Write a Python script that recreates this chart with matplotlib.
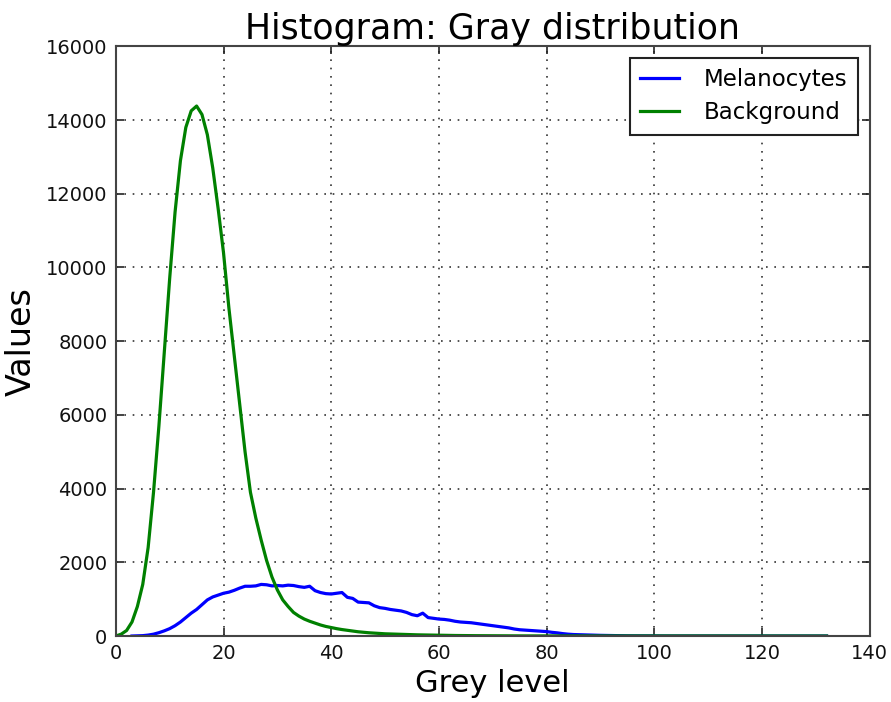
import matplotlib
matplotlib.use("Agg")
import matplotlib.pyplot as plt

background_levels = list(range(0, 133))
background = [
    0, 50, 150, 380, 800, 1400, 2400, 3900, 5700, 7700,
    9700, 11500, 12900, 13800, 14250, 14380, 14150, 13600, 12700, 11600,
    10400, 8900, 7600, 6300, 5000, 3900, 3200, 2600, 2050, 1600,
    1250, 980, 800, 640, 540, 460, 400, 350, 300, 260,
    230, 200, 175, 155, 135, 115, 100, 88, 78, 68,
    60, 55, 50, 45, 40, 36, 32, 29, 26, 23,
    20, 18, 16, 14, 12, 11, 10, 9, 8, 7,
    6, 5, 5, 4, 4, 3, 3, 3, 2, 2,
    2, 2, 1, 1, 1, 1, 1, 1, 1, 1,
    1, 0, 0, 0, 0, 0, 0, 0, 0, 0,
    0, 0, 0, 0, 0, 0, 0, 0, 0, 0,
    0, 0, 0, 0, 0, 0, 0, 0, 0, 0,
    0, 0, 0, 0, 0, 0, 0, 0, 0, 0,
    0, 0, 0,
]

melanocyte_levels = list(range(3, 133))
melanocytes = [
    0, 5, 10, 25, 50, 90, 140,
    200, 280, 380, 500, 620, 720, 850, 980, 1060, 1110,
    1160, 1190, 1240, 1300, 1350, 1350, 1360, 1400, 1390, 1360,
    1370, 1360, 1380, 1370, 1340, 1320, 1350, 1230, 1180, 1150,
    1140, 1160, 1180, 1050, 1020, 920, 910, 900, 820, 770,
    750, 720, 700, 680, 640, 580, 550, 620, 500, 480,
    460, 450, 430, 400, 380, 370, 360, 340, 320, 300,
    280, 260, 240, 220, 190, 170, 160, 150, 140, 130,
    120, 100, 85, 65, 50, 40, 35, 30, 25, 20,
    18, 15, 12, 10, 8, 6, 5, 4, 3, 2,
    2, 1, 1, 1, 1, 0, 0, 0, 0, 0,
    0, 0, 0, 0, 0, 0, 0, 0, 0, 0,
    0, 0, 0, 0, 0, 0, 0, 0, 0, 0,
    0, 0, 0,
]

x_ticks = [0, 20, 40, 60, 80, 100, 120, 140]
y_ticks = [0, 2000, 4000, 6000, 8000, 10000, 12000, 14000, 16000]

fig = plt.figure(figsize=(8.91, 7.02), dpi=100)
ax = fig.add_axes([0.130, 0.094, 0.846, 0.840])

ax.plot(melanocyte_levels, melanocytes, color="#0000ff", lw=2.3, label="Melanocytes")
ax.plot(background_levels, background, color="#008000", lw=2.3, label="Background")

ax.set_xlim(0, 140)
ax.set_ylim(0, 16000)
ax.set_xticks(x_ticks)
ax.set_yticks(y_ticks)
ax.tick_params(direction="in", top=True, right=True, length=6, width=1.2,
               labelsize=14, pad=6, colors="#222222", labelcolor="#111111")
ax.grid(True, linestyle=(0, (1, 4)), color="#333333", linewidth=1.2)
for s in ax.spines.values():
    s.set_linewidth(1.5)
    s.set_color("#444444")

ax.set_title("Histogram: Gray distribution", fontsize=25, pad=5)
ax.set_xlabel("Grey level", fontsize=22, labelpad=4)
ax.set_ylabel("Values", fontsize=24, labelpad=6)

leg = ax.legend(loc="upper right", fontsize=16.5, fancybox=False, framealpha=1,
                edgecolor="#222222", handlelength=1.7, borderpad=0.45,
                handletextpad=1.1, labelspacing=0.45)
leg.get_frame().set_linewidth(1.5)

fig.savefig("out.png", dpi=100)
